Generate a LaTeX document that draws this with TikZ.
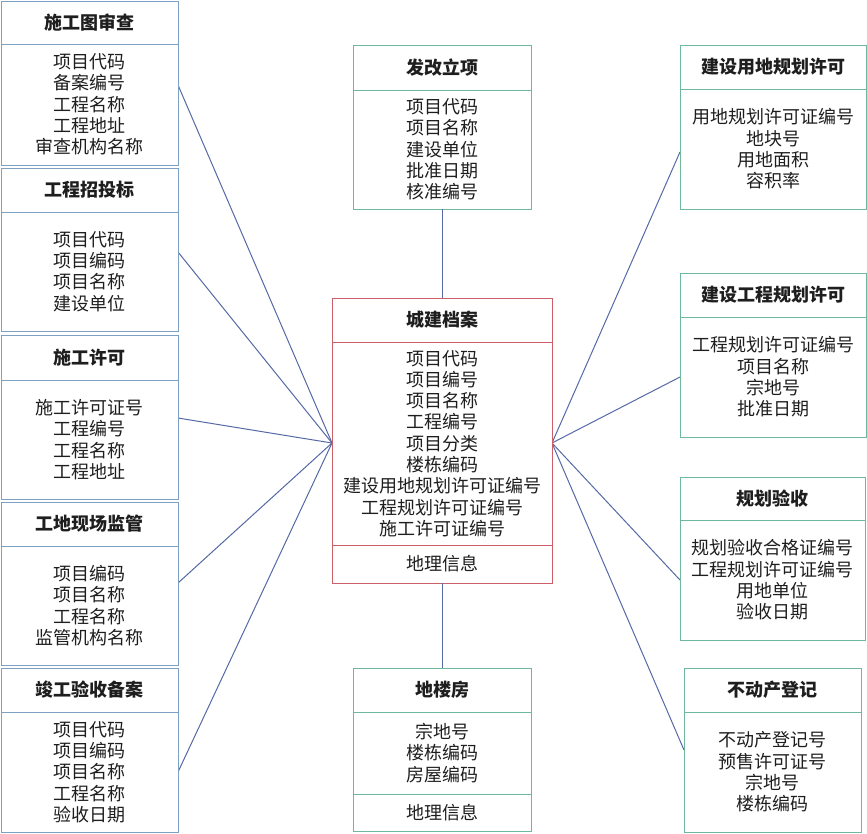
\documentclass[tikz,border=0pt]{standalone}
\usepackage{fontspec}
\setmainfont{Noto Sans CJK SC}
\usetikzlibrary{calc}
\definecolor{lblue}{RGB}{125,160,195}
\definecolor{gbord}{RGB}{110,185,155}
\definecolor{rbord}{RGB}{205,95,105}
\definecolor{conncol}{RGB}{85,105,165}
\definecolor{txt}{RGB}{30,30,30}
\tikzset{
  ebox/.style={draw=#1, line width=1pt, inner sep=0pt, outer sep=0pt, fill=white},
  eline/.style={draw=#1, line width=1pt},
  titletext/.style={font=\fontsize{18}{21.3}\selectfont\bfseries, text=txt, align=center, inner sep=0pt},
  bodytext/.style={font=\fontsize{18}{21.3}\selectfont, text=txt, align=center, inner sep=0pt},
  conn/.style={draw=conncol, line width=1pt}
}
\def\bcol{gbord}
% name, x1, y1, x2, y2, ydiv, ybodyend, title, body ; colour from \bcol
\newcommand\entitybox[9]{%
  \node[ebox=\bcol, anchor=north west, minimum width={(#4-#2)*1pt}, minimum height={(#5-#3)*1pt}] (#1) at (#2,#3) {};
  \draw[eline=\bcol] (#2,#6) -- (#4,#6);
  \node[titletext] (#1-t) at ({(#2+#4)/2},{(#3+#6)/2}) {#8};
  \node[bodytext] (#1-b) at ({(#2+#4)/2},{(#6+#7)/2}) {#9};
}
\begin{document}
\begin{tikzpicture}[x=1pt,y=-1pt]
\useasboundingbox (0,0) rectangle (867,833);

% connectors first (under boxes)
\coordinate (cl) at (332,443);
\coordinate (cr) at (552,443);
\coordinate (pl1) at (178,85);
\coordinate (pl2) at (178,252);
\coordinate (pl3) at (178,418);
\coordinate (pl4) at (178,583);
\coordinate (pl5) at (178,772);
\coordinate (pr1) at (680,152);
\coordinate (pr2) at (680,377);
\coordinate (pr3) at (680,580);
\coordinate (pr4) at (684,750);
\foreach \p in {pl1,pl2,pl3,pl4,pl5} \draw[conn] (\p) -- (cl);
\foreach \p in {pr1,pr2,pr3,pr4} \draw[conn] (\p) -- (cr);

% left column
\def\bcol{lblue}
\entitybox{sgt}{1}{1}{178}{165}{44}{165}{施工图审查}{项目代码\\备案编号\\工程名称\\工程地址\\审查机构名称}
\entitybox{zb}{1}{168}{178}{331}{212}{331}{工程招投标}{项目代码\\项目编码\\项目名称\\建设单位}
\entitybox{sgxk}{1}{335}{178}{499}{380}{499}{施工许可}{施工许可证号\\工程编号\\工程名称\\工程地址}
\entitybox{jg}{1}{502}{178}{665}{546}{665}{工地现场监管}{项目编码\\项目名称\\工程名称\\监管机构名称}
\entitybox{jgys}{1}{668}{178}{832}{712}{832}{竣工验收备案}{项目代码\\项目编码\\项目名称\\工程名称\\验收日期}

% middle column
\def\bcol{gbord}
\entitybox{fg}{353}{45}{531}{209}{90}{209}{发改立项}{项目代码\\项目名称\\建设单位\\批准日期\\核准编号}
\def\bcol{rbord}
\entitybox{cj}{332}{298}{552}{583}{342}{545}{城建档案}{项目代码\\项目编号\\项目名称\\工程编号\\项目分类\\楼栋编码\\建设用地规划许可证编号\\工程规划许可证编号\\施工许可证编号}
\draw[eline=rbord] (332,545) -- (552,545);
\node[bodytext] (cj-g) at (442,564) {地理信息};
\def\bcol{gbord}
\entitybox{dlf}{353}{668}{531}{831}{712}{794}{地楼房}{宗地号\\楼栋编码\\房屋编码}
\draw[eline=gbord] (353,794) -- (531,794);
\node[bodytext] (dlf-g) at (442,812.5) {地理信息};

\draw[conn] (fg.south) -- (cj.north);
\draw[conn] (cj.south) -- (dlf.north);

% right column
\entitybox{ydgh}{680}{45}{866}{209}{89}{209}{建设用地规划许可}{用地规划许可证编号\\地块号\\用地面积\\容积率}
\entitybox{gcgh}{680}{273}{866}{437}{317}{437}{建设工程规划许可}{工程规划许可证编号\\项目名称\\宗地号\\批准日期}
\entitybox{ghys}{680}{477}{865}{640}{520}{640}{规划验收}{规划验收合格证编号\\工程规划许可证编号\\用地单位\\验收日期}
\entitybox{bdc}{684}{668}{861}{832}{712}{832}{不动产登记}{不动产登记号\\预售许可证号\\宗地号\\楼栋编码}
\end{tikzpicture}
\end{document}
